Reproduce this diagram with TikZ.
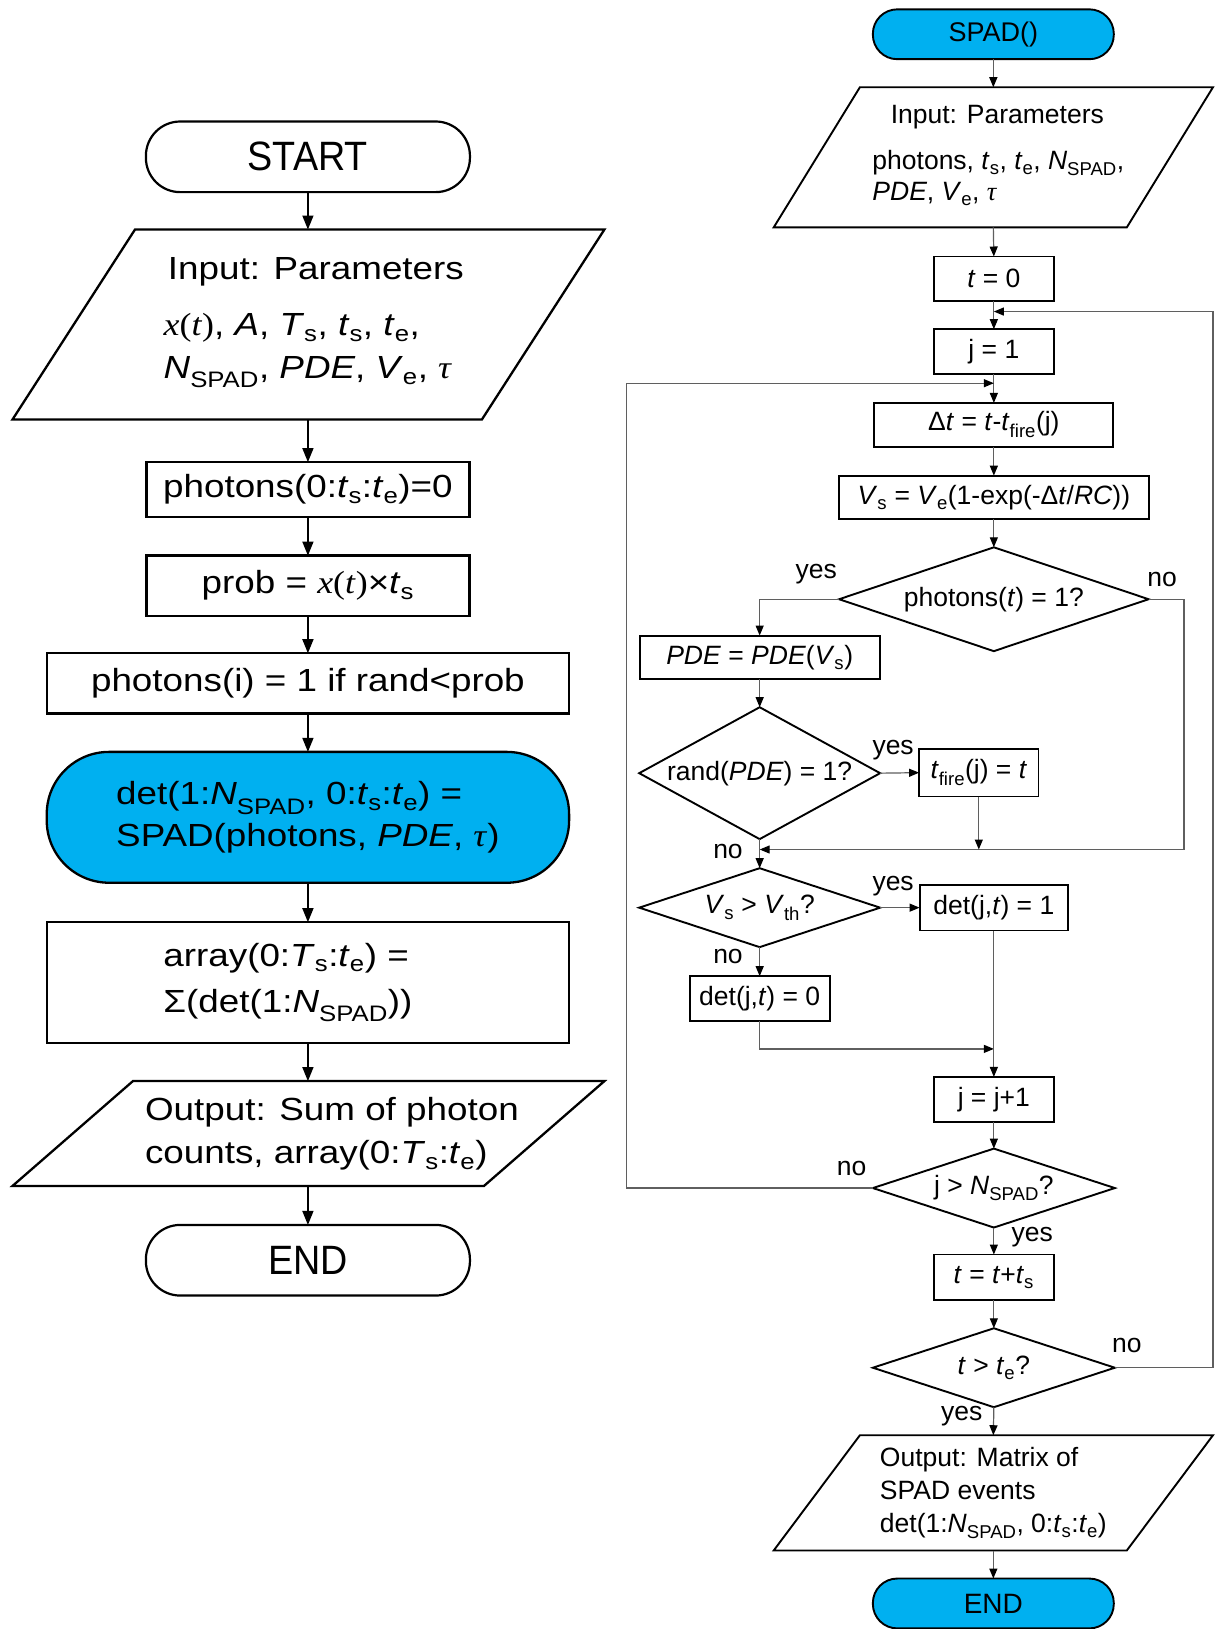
\documentclass[tikz,border=0pt]{standalone}
\usepackage[no-math]{fontspec}
\setmainfont{Liberation Sans}
\newfontfamily\Lf{Liberation Sans}[FakeStretch=1.15]
\newfontfamily\Sf{Liberation Sans}[FakeStretch=0.92]
\newfontfamily\Mf{Liberation Serif}[FakeStretch=1.12]
\newfontfamily\Mr{Liberation Serif}
\usetikzlibrary{arrows.meta,shapes.geometric}
\definecolor{spadblue}{RGB}{0,176,240}
\definecolor{cgray}{RGB}{95,95,95}
\def\pxu{1.0385pt}
\newcommand\sbs[1]{\raisebox{-0.07em}{\textsubscript{#1}}}
\begin{document}
\begin{tikzpicture}[x=1.0385pt,y=-1.0385pt,
  every node/.style={inner sep=0pt,outer sep=0pt},
  Lfnt/.style={font=\Lf\fontsize{32}{36}\selectfont},
  Lterm/.style={draw,line width=2.2pt,rounded corners=33*\pxu,minimum width=312*\pxu,minimum height=68*\pxu,font=\Sf\fontsize{41}{48}\selectfont},
  Lbox/.style={draw,line width=2.3pt,Lfnt},
  Rfnt/.style={font=\fontsize{26.5}{31}\selectfont},
  Rbox/.style={draw,line width=1.9pt,Rfnt},
  Rdia/.style={draw,diamond,line width=1.9pt,Rfnt},
  Rterm/.style={draw,fill=spadblue,line width=1.9pt,rounded corners=23.5*\pxu,minimum width=232*\pxu,minimum height=48*\pxu,font=\fontsize{27}{31}\selectfont},
  Larr/.style={-{Triangle[length=14pt,width=11pt]},line width=1.5pt},
  Rarr/.style={-{Triangle[length=10pt,width=8pt,color=black]},line width=1.2pt,draw=cgray},
  lab/.style={Rfnt}]
\fill[white] (0,0) rectangle (1169,1568.6);
\useasboundingbox (0,0) rectangle (1169,1568.6);

% ---------------- left column ----------------
\node[Lterm] (start) at (296.5,151) {START};

\draw[line width=2.3pt] (130,221) -- (582,221) -- (464,404) -- (12,404) -- cycle;
\node[align=center,minimum width=300*\pxu,minimum height=183*\pxu,font=\Lf\fontsize{32}{43}\selectfont] (in1) at (296.5,312.5)
  {\hspace*{16pt}Input: Parameters\\[13pt]
   \begin{tabular}[t]{@{}l@{}}{\Mf\textit{x}(\textit{t})}, \textit{A}, \textit{T}\sbs{s}, \textit{t}\sbs{s}, \textit{t}\sbs{e},\\
   \textit{N}\sbs{SPAD}, \textit{PDE}, \textit{V}\sbs{e}, {\Mf\textit{τ}}\end{tabular}};

\node[Lbox,minimum width=311*\pxu,minimum height=53*\pxu] (ph0) at (296.5,471.5)
  {photons(0:\textit{t}\sbs{s}:\textit{t}\sbs{e})=0};
\node[Lbox,minimum width=311*\pxu,minimum height=58*\pxu] (prob) at (296.5,564)
  {prob = {\Mf\textit{x}(\textit{t})}×\textit{t}\sbs{s}};
\node[Lbox,minimum width=503*\pxu,minimum height=58*\pxu] (phi) at (296.5,658)
  {photons(i) = 1 if rand<prob};
\node[Lbox,fill=spadblue,rounded corners=60*\pxu,align=left,minimum width=503*\pxu,minimum height=126*\pxu,font=\Lf\fontsize{32}{41.5}\selectfont] (det) at (296.5,787)
  {det(1:\textit{N}\sbs{SPAD}, 0:\textit{t}\sbs{s}:\textit{t}\sbs{e}) =\\
   SPAD(photons, \textit{PDE}, {\Mf\textit{τ}})};
\node[Lbox,align=left,minimum width=503*\pxu,minimum height=116*\pxu,font=\Lf\fontsize{32}{46.5}\selectfont] (arr) at (296.5,946)
  {array(0:\textit{T}\sbs{s}:\textit{t}\sbs{e}) =\hspace*{40pt}\\
   Σ(det(1:\textit{N}\sbs{SPAD}))\hspace*{40pt}};

\draw[line width=2.3pt] (128,1041) -- (582,1041) -- (466,1142) -- (12,1142) -- cycle;
\node[align=left,minimum width=300*\pxu,minimum height=101*\pxu,font=\Lf\fontsize{32}{43.6}\selectfont] (out1) at (296.5,1091.5)
  {\hspace*{48pt}Output: Sum of photon\\
   \hspace*{48pt}counts, array(0:\textit{T}\sbs{s}:\textit{t}\sbs{e})};

\node[Lterm] (end1) at (296.5,1213.5) {END};

\draw[Larr] (start.south) -- (in1.north);
\draw[Larr] (in1.south) -- (ph0.north);
\draw[Larr] (ph0.south) -- (prob.north);
\draw[Larr] (prob.south) -- (phi.north);
\draw[Larr] (phi.south) -- (det.north);
\draw[Larr] (det.south) -- (arr.north);
\draw[Larr] (arr.south) -- (out1.north);
\draw[Larr] (out1.south) -- (end1.north);

% ---------------- right column ----------------
\node[Rterm] (spad) at (956.5,33) {SPAD()};

\draw[line width=1.9pt] (828,84) -- (1168,84) -- (1085,219) -- (745,219) -- cycle;
\node[Rfnt,align=center,minimum width=250*\pxu,minimum height=135*\pxu] (in2) at (956.5,151.5)
  {\hspace*{8pt}Input: Parameters\\[15pt]
   \begin{tabular}[t]{@{}l@{}}\hspace*{10pt}photons, \textit{t}\sbs{s}, \textit{t}\sbs{e}, \textit{N}\sbs{SPAD},\\
   \hspace*{10pt}\textit{PDE}, \textit{V}\sbs{e}, {\Mr\textit{τ}}\end{tabular}};

\node[Rbox,minimum width=116*\pxu,minimum height=43*\pxu] (t0) at (957,268.5) {\textit{t} = 0};
\node[Rbox,minimum width=116*\pxu,minimum height=43*\pxu] (j1) at (957,338.5) {j = 1};
\node[Rbox,minimum width=230*\pxu,minimum height=42*\pxu] (dt) at (957,409)
  {Δ\textit{t} = \textit{t}-\textit{t}\sbs{fire}(j)};
\node[Rbox,minimum width=298*\pxu,minimum height=42*\pxu] (vs) at (957,479)
  {\textit{V}\sbs{s} = \textit{V}\sbs{e}(1-exp(-Δ\textit{t}/\textit{RC}))};
\node[Rdia,aspect=2.98,minimum width=298*\pxu,minimum height=100*\pxu] (dph) at (957,577)
  {photons(\textit{t}) = 1?};
\node[Rbox,minimum width=231*\pxu,minimum height=42*\pxu] (pde) at (731.5,633)
  {\textit{PDE} = \textit{PDE}(\textit{V}\sbs{s})};
\node[Rdia,aspect=1.83,minimum width=232*\pxu,minimum height=127*\pxu] (drand) at (731.5,744.5)
  {rand(\textit{PDE}) = 1?};
\node[Rbox,minimum width=115*\pxu,minimum height=46*\pxu] (tf) at (942.5,744)
  {\textit{t}\sbs{fire}(j) = \textit{t}};
\node[Rdia,aspect=3.05,minimum width=232*\pxu,minimum height=76*\pxu] (dvs) at (731.5,874)
  {\textit{V}\sbs{s} > \textit{V}\sbs{th}?};
\node[Rbox,minimum width=143*\pxu,minimum height=44*\pxu] (det1) at (957,874)
  {det(j,\textit{t}) = 1};
\node[Rbox,minimum width=135*\pxu,minimum height=43*\pxu] (det0) at (731.5,961.5)
  {det(j,\textit{t}) = 0};
\node[Rbox,minimum width=116*\pxu,minimum height=43*\pxu] (jj) at (957,1058.5) {j = j+1};
\node[Rdia,aspect=3.07,minimum width=233*\pxu,minimum height=76*\pxu] (dj) at (957,1144)
  {j > \textit{N}\sbs{SPAD}?};
\node[Rbox,minimum width=116*\pxu,minimum height=44*\pxu] (tt) at (957,1230)
  {\textit{t} = \textit{t}+\textit{t}\sbs{s}};
\node[Rdia,aspect=3.07,minimum width=233*\pxu,minimum height=76*\pxu] (dte) at (957,1317)
  {\textit{t} > \textit{t}\sbs{e}?};

\draw[line width=1.9pt] (828,1382) -- (1168,1382) -- (1085,1493) -- (745,1493) -- cycle;
\node[align=left,minimum width=250*\pxu,minimum height=111*\pxu,font=\fontsize{26.5}{33}\selectfont] (out2) at (956.5,1437.5)
  {Output: Matrix of\\
   SPAD events\\
   det(1:\textit{N}\sbs{SPAD}, 0:\textit{t}\sbs{s}:\textit{t}\sbs{e})};

\node[Rterm,font=\fontsize{28}{31}\selectfont] (end2) at (956.5,1544) {END};

% helper points on connector lines
\coordinate (m1) at (957,300);
\coordinate (m2) at (957,369);
\coordinate (m3) at (731.5,818);
\coordinate (m4) at (957,1010);

\draw[Rarr] (spad.south) -- (in2.north);
\draw[Rarr] (in2.south) -- (t0.north);
\draw[Rarr] (t0.south) -- (j1.north);
\draw[Rarr] (dte.east) -- (1168,1317) -- (1168,300) -- (m1);
\draw[Rarr] (j1.south) -- (dt.north);
\draw[Rarr] (dj.west) -- (603,1144) -- (603,369) -- (m2);
\draw[Rarr] (dt.south) -- (vs.north);
\draw[Rarr] (vs.south) -- (dph.north);
\draw[Rarr] (dph.west) -| (pde.north);
\draw[Rarr] (dph.east) -- (1140,577) |- (m3);
\draw[Rarr] (pde.south) -- (drand.north);
\draw[Rarr] (drand.east) -- (tf.west);
\draw[Rarr] (tf.south) -- (tf.south |- m3);
\draw[Rarr] (drand.south) -- (dvs.north);
\draw[Rarr] (dvs.east) -- (det1.west);
\draw[Rarr] (dvs.south) -- (det0.north);
\draw[Rarr] (det0.south) |- (m4);
\draw[Rarr] (det1.south) -- (jj.north);
\draw[Rarr] (jj.south) -- (dj.north);
\draw[Rarr] (dj.south) -- (tt.north);
\draw[Rarr] (tt.south) -- (dte.north);
\draw[Rarr] (dte.south) -- (out2.north);
\draw[Rarr] (out2.south) -- (end2.north);

% labels
\node[lab] (ly1) at (786,553) {yes};
\node[lab] (ln1) at (1119,558) {no};
\node[lab] (ly2) at (860,722) {yes};
\node[lab] (ln2) at (701,820) {no};
\node[lab] (ly3) at (860,853) {yes};
\node[lab] (ln3) at (701,921) {no};
\node[lab] (ln4) at (820,1125) {no};
\node[lab] (ly4) at (994,1191) {yes};
\node[lab] (ln5) at (1085,1296) {no};
\node[lab] (ly5) at (926,1364) {yes};
\end{tikzpicture}
\end{document}
